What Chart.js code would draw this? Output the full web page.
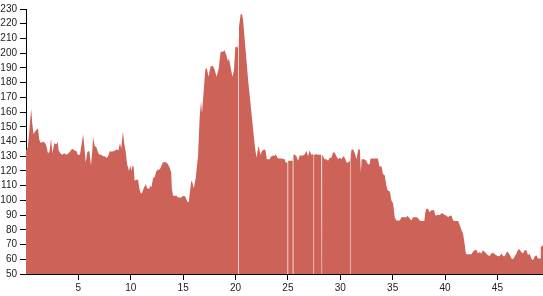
<!DOCTYPE html>
<html>
<head>
<meta charset="utf-8">
<script src="https://cdn.jsdelivr.net/npm/chart.js@4.4.0/dist/chart.umd.min.js"></script>
<style>
  html, body { margin: 0; padding: 0; background: #fff; }
</style>
</head>
<body>
<canvas id="myChart" width="543" height="296"></canvas>
<script>
// tick values shown on the axes
const xTicks = [5, 10, 15, 20, 25, 30, 35, 40, 45];
const yTicks = [50, 60, 70, 80, 90, 100, 110, 120, 130, 140, 150, 160, 170, 180, 190, 200, 210, 220, 230];

// readings [x, y] off the picture, y = null where the area is broken
const startPlateau = [
    [0.0, 134], [0.17, 136], [0.3, 146], [0.4, 155], [0.5, 162], [0.6, 152], [0.72, 145], [0.87, 147],
    [1.02, 148], [1.14, 149], [1.27, 141], [1.42, 139], [1.62, 140], [1.82, 139], [1.95, 137], [2.1, 132],
    [2.24, 133], [2.39, 142], [2.52, 132], [2.7, 139], [2.87, 138], [3.04, 139.6], [3.11, 134], [3.28, 132],
    [3.45, 131], [3.65, 132], [3.85, 131], [4.05, 132], [4.2, 133], [4.4, 135], [4.6, 134], [4.8, 133.5],
    [4.95, 131], [5.15, 131], [5.35, 140], [5.45, 145], [5.55, 138], [5.7, 125.7], [5.86, 133], [6.05, 133.5],
    [6.2, 123.5], [6.32, 133], [6.4, 143], [6.56, 137], [6.73, 136], [6.9, 132], [7.05, 131], [7.2, 131],
    [7.36, 130], [7.52, 130], [7.7, 129], [7.84, 130], [8.0, 133.5], [8.17, 133], [8.42, 133.6], [8.62, 134.6],
    [8.82, 134], [8.97, 139], [9.09, 135], [9.25, 146.6], [9.39, 138], [9.51, 133.6]
];
const valley = [
    [9.65, 124.8], [9.83, 120], [9.95, 124], [10.05, 120], [10.17, 123.5], [10.27, 123], [10.37, 113.4],
    [10.53, 114], [10.69, 114], [10.85, 107], [10.97, 104.6], [11.07, 105], [11.22, 108], [11.43, 111],
    [11.57, 108], [11.75, 108], [11.81, 110], [11.97, 109], [12.13, 115], [12.29, 116], [12.45, 120],
    [12.61, 121], [12.77, 121], [12.93, 123.5], [13.06, 125.7], [13.24, 126], [13.38, 125.7], [13.54, 124.8],
    [13.7, 122.5], [13.86, 119], [13.92, 108], [14.04, 103.3], [14.19, 103], [14.34, 103.3], [14.5, 102],
    [14.66, 102], [14.82, 102], [14.98, 103], [15.14, 103], [15.24, 102], [15.4, 99], [15.53, 98.8],
    [15.62, 104], [15.78, 113.4], [15.89, 112], [16.01, 108], [16.2, 115], [16.34, 125]
];
const peak = [
    [16.42, 130], [16.58, 157], [16.71, 167.3], [16.8, 159], [16.99, 177.4], [17.12, 189], [17.26, 190],
    [17.42, 184], [17.62, 191], [17.82, 191.4], [18.0, 189], [18.19, 184], [18.38, 189], [18.58, 201],
    [18.8, 201], [18.96, 202], [19.12, 198.8], [19.28, 194.3], [19.37, 196.5], [19.52, 191], [19.7, 184],
    [19.85, 188], [19.98, 204], [20.08, 204.4], [20.18, 203.7], [20.27, 206], [20.28, null], [20.29, 210],
    [20.33, 218], [20.49, 226.5], [20.62, 226.5], [20.72, 222.5], [20.88, 209], [21.04, 195.5], [21.2, 182],
    [21.36, 170.7], [21.52, 159.4], [21.68, 148.4], [21.84, 137], [22.0, 129]
];
const midPlateau = [
    [22.19, 137], [22.39, 131], [22.49, 133], [22.59, 134], [22.74, 134.5], [22.86, 134], [22.99, 128],
    [23.25, 128], [23.41, 130], [23.59, 130.5], [23.73, 130.2], [23.82, 131.4], [24.05, 128.5], [24.39, 128.5],
    [24.69, 128], [24.79, 125.7], [24.98, 125.7], [25.0, null], [25.02, 127], [25.19, 127], [25.33, 127],
    [25.47, 127], [25.49, null], [25.51, 131.4], [25.65, 131], [25.81, 130], [25.97, 127], [26.13, 130.5],
    [26.29, 130.5], [26.45, 130.5], [26.61, 131.4], [26.77, 133.6], [26.93, 130], [27.07, 134], [27.23, 131],
    [27.37, 131.4], [27.465, 131], [27.48, null], [27.495, 131], [27.57, 131], [27.71, 131.4], [27.87, 131],
    [28.03, 131], [28.19, 131], [28.235, 131], [28.25, null], [28.265, 131], [28.34, 131], [28.51, 128],
    [28.67, 128], [28.83, 127], [28.99, 129], [29.15, 129], [29.31, 132.5], [29.47, 132.5], [29.63, 130],
    [29.79, 128], [29.95, 129], [30.11, 128], [30.27, 130], [30.43, 129], [30.59, 125.7], [30.75, 125.7],
    [30.925, 127], [30.94, null], [30.955, 128], [31.07, 134.5], [31.23, 134.5], [31.39, 132], [31.55, 128],
    [31.71, 134.5], [31.87, 134.5], [31.96, 119], [32.04, 128], [32.29, 128], [32.48, 127], [32.64, 124.6],
    [32.8, 124.6], [32.89, 128.5], [33.24, 128.5], [33.59, 128.5], [33.74, 123], [33.94, 123], [34.07, 118],
    [34.24, 117], [34.4, 110], [34.54, 106.6], [34.74, 106], [34.88, 100], [35.04, 98]
];
const lowShelf = [
    [35.2, 88.6], [35.34, 86.4], [35.68, 86.4], [35.84, 88.6], [36.09, 88.6], [36.34, 88.6], [36.41, 89.7],
    [36.64, 87.5], [36.8, 86.4], [36.94, 88.6], [37.26, 88.6], [37.42, 88], [37.58, 86.4], [37.72, 86],
    [38.02, 86], [38.12, 92], [38.22, 94.3], [38.37, 94.3], [38.52, 92], [38.7, 93.3], [38.95, 93.3],
    [39.08, 89.7], [39.32, 90], [39.49, 90], [39.72, 91.5], [39.97, 90], [40.12, 89.8], [40.29, 88.5],
    [40.45, 89.5], [40.62, 89.5], [40.77, 86.4], [40.92, 86], [41.25, 86], [41.42, 83], [41.58, 79.7],
    [41.72, 77.4], [41.89, 69.5]
];
const tail = [
    [41.96, 65], [42.03, 63.5], [42.51, 63.5], [42.66, 65], [42.82, 66.2], [42.99, 66.5], [43.14, 64],
    [43.29, 65], [43.47, 64], [43.62, 66.2], [43.79, 65], [43.94, 64], [44.09, 62.8], [44.26, 62.2],
    [44.42, 64], [44.59, 64.5], [44.74, 63.5], [44.9, 62.8], [45.06, 62], [45.22, 62.2], [45.39, 64],
    [45.54, 62.2], [45.69, 62], [45.89, 65], [45.99, 65], [46.19, 62.8], [46.34, 60.6], [46.49, 60],
    [46.66, 62], [46.82, 64], [46.97, 66.6], [47.12, 66.6], [47.27, 65], [47.44, 64], [47.6, 66.2],
    [47.77, 66.2], [47.92, 62.8], [48.07, 64], [48.24, 60.6], [48.4, 59.4], [48.57, 62], [48.72, 62.8],
    [48.87, 60.6], [49.07, 60.6], [49.14, 68.4], [49.35, 69.5]
];

const readings = startPlateau.concat(valley, peak, midPlateau, lowShelf, tail);
const points = readings.map((r) => ({ x: r[0], y: r[1] }));

const axisFont = { family: "'Liberation Sans', Arial, sans-serif", size: 10 };

const data = {
    datasets: [{
        data: points,
        backgroundColor: 'rgb(205, 98, 88)',
        borderWidth: 0,
        pointRadius: 0,
        fill: 'start',
        tension: 0,
        spanGaps: false
    }]
};

const config = {
    type: 'line',
    data,
    options: {
        responsive: false,
        animation: false,
        devicePixelRatio: 1,
        layout: { padding: { top: 7, right: 0, left: 0, bottom: 0 } },
        plugins: { legend: { display: false }, tooltip: { enabled: false } },
        scales: {
            x: {
                type: 'linear',
                min: 0,
                max: 49.35,
                afterFit: (scale) => { scale.height = 22; },
                afterBuildTicks: (scale) => { scale.ticks = xTicks.map((v) => ({ value: v })); },
                grid: { drawOnChartArea: false, drawTicks: true, tickLength: 6, color: '#000' },
                border: { display: true, color: '#000', width: 1 },
                ticks: { font: axisFont, color: '#222', padding: 2, maxRotation: 0, autoSkip: false }
            },
            y: {
                min: 50,
                max: 230,
                afterFit: (scale) => { scale.width = 26; },
                afterBuildTicks: (scale) => { scale.ticks = yTicks.map((v) => ({ value: v })); },
                grid: { drawOnChartArea: false, drawTicks: true, tickLength: 6, color: '#000' },
                border: { display: true, color: '#000', width: 1 },
                ticks: { font: axisFont, color: '#222', padding: 3, autoSkip: false }
            }
        }
    }
};

const myChart = new Chart(document.getElementById('myChart'), config);
</script>
</body>
</html>
